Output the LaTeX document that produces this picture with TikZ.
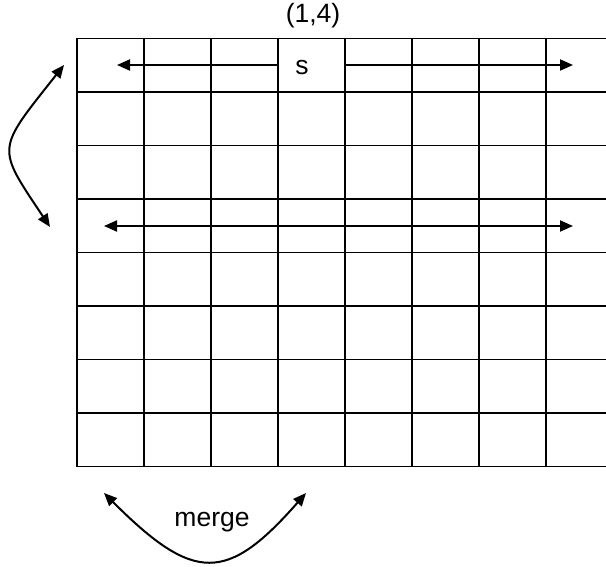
\documentclass[tikz,border=0pt]{standalone}
\usepackage{fontspec}
\setmainfont{Liberation Sans}
\usetikzlibrary{arrows.meta}
\tikzset{
  gridline/.style={line width=1.5pt, black},
  arr/.style={line width=2pt, -{Triangle[length=13pt,width=11pt]}},
  darr/.style={line width=2pt, {Triangle[length=13pt,width=11pt]}-{Triangle[length=13pt,width=11pt]}},
  lbl/.style={font=\fontsize{26.5}{30}\selectfont, inner sep=0pt, anchor=base},
  cellbox/.style={inner sep=0pt, minimum width=67pt, minimum height=53.5pt}
}
\begin{document}
\begin{tikzpicture}[x=1pt,y=-1pt]
\useasboundingbox (0,0) rectangle (606,567);
\begin{scope}
\clip (0,0) rectangle (606,567);
% grid
\foreach \i in {0,...,8} {
  \draw[gridline] (77,38.5+53.5*\i) -- (620,38.5+53.5*\i);
  \draw[gridline] (77+67*\i,38.5) -- (77+67*\i,466.5);
}
\end{scope}
% title
\node[lbl] (title) at (313,23) {(1,4)};
% s cell
\node[cellbox] (s) at (311.5,65) {};
\node[lbl] (stext) at (302,75) {s};
\coordinate (l1) at (117,65);
\coordinate (r1) at (573,65);
\draw[arr] (s.west) -- (l1);
\draw[arr] (s.east) -- (r1);
% row 4 arrow
\coordinate (l4) at (104,226);
\coordinate (r4) at (573,226);
\draw[darr] (l4) -- (r4);
% left curved arrow
\coordinate (lt) at (64,65);
\coordinate (lb) at (50,227);
\draw[darr] (lt) .. controls (-4,151) and (-4,146) .. (lb);
% merge
\coordinate (ml) at (104,493);
\coordinate (mr) at (306,493);
\draw[darr] (ml) .. controls (194,583) and (227,583) .. (mr);
\node[lbl] (merge) at (212,526.5) {merge};
\end{tikzpicture}
\end{document}
